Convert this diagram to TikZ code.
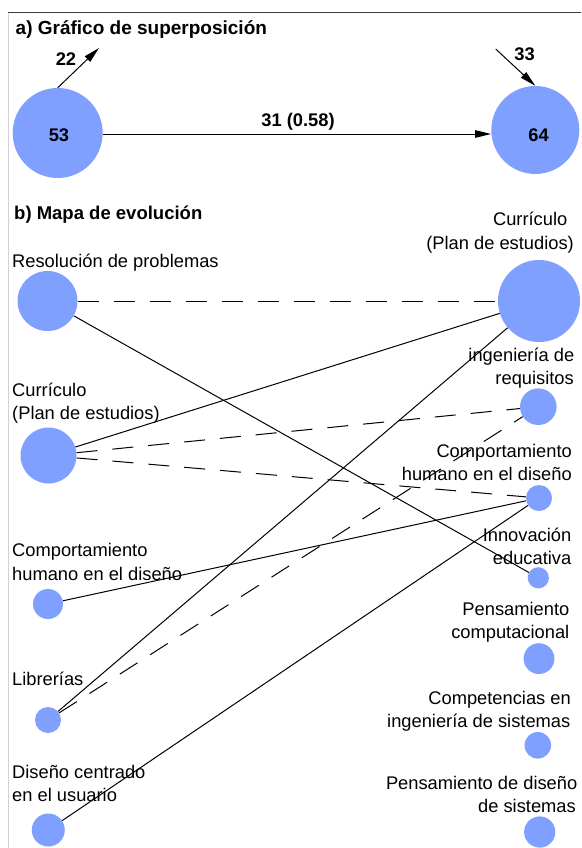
\documentclass[tikz,border=0pt]{standalone}
\usepackage{fontspec}
\setmainfont{Liberation Sans}
\usetikzlibrary{arrows.meta}
\definecolor{nodeblue}{RGB}{128,160,255}
\definecolor{topline}{RGB}{60,60,60}
\definecolor{sideline}{RGB}{210,210,210}
\begin{document}
\begin{tikzpicture}[x=1pt,y=-1pt,
  vtx/.style={circle,fill=nodeblue,draw=none,inner sep=0pt,minimum size=#1},
  lab/.style={inner sep=0pt,font=\fontsize{18.3}{22}\selectfont},
  labl/.style={lab,anchor=base west},
  labr/.style={lab,anchor=base east},
  num/.style={inner sep=0pt,anchor=base,font=\fontsize{18.3}{22}\selectfont\bfseries},
  ttl/.style={inner sep=0pt,anchor=base west,font=\fontsize{#1}{22}\selectfont\bfseries},
  edge/.style={line width=1pt,black},
  dashedge/.style={edge,dash pattern=on 21pt off 15pt},
  arr/.style={line width=1pt,black,-{Triangle[length=16pt,width=7.5pt]}}
]
\useasboundingbox[fill=white] (0,0) rectangle (581,848);
% frame
\draw[topline,line width=1pt] (8,13) -- (581,13);
\draw[sideline,line width=1pt] (8,13) -- (8,848);

% ---------- a) overlap graph
\node[ttl=19] (ta) at (15.5,35) {a) Gráfico de superposición};
\node[vtx=90] (n53) at (57.7,133) {};
\node[vtx=88] (n64) at (535.3,130) {};
\node[num] (l53) at (59,141) {53};
\node[num] (l64) at (538.5,141) {64};
\coordinate (s31) at ([yshift=-1pt]n53.east);
\coordinate (e31) at (s31 -| n64.west);
\draw[arr] (s31) -- (e31);
\node[num] (l31) at (298,127) {31 (0.58)};
\coordinate (t22) at (99,48);
\draw[arr] (n53.north) -- (t22);
\node[num] (l22) at (66,66) {22};
\coordinate (s33) at (495.7,49);
\draw[arr] (s33) -- (n64.north);
\node[num] (l33) at (524.5,61) {33};

% ---------- b) evolution map
\node[ttl=18.5] (tb) at (14,219.5) {b) Mapa de evolución};

\node[vtx=60] (L1) at (47.5,301) {};
\node[vtx=56] (L2) at (48.5,455.5) {};
\node[vtx=30] (L3) at (48,604) {};
\node[vtx=26] (L4) at (48,720) {};
\node[vtx=33] (L5) at (48.3,830) {};

\node[vtx=82] (R1) at (539,301) {};
\node[vtx=36.6] (R2) at (538.3,406.7) {};
\node[vtx=26] (R3) at (539,498) {};
\node[vtx=21.2] (R4) at (538.3,577.8) {};
\node[vtx=30.8] (R5) at (539,658.6) {};
\node[vtx=26.6] (R6) at (537.8,745.3) {};
\node[vtx=31.2] (R7) at (539.7,832) {};

\node[labl] (l1a) at (12,267) {Resolución de problemas};
\node[labl] (l2a) at (12,396) {Currículo};
\node[labl] (l2b) at (12,419.5) {(Plan de estudios)};
\node[labl] (l3a) at (12,556.7) {Comportamiento};
\node[labl] (l3b) at (12,580) {humano en el diseño};
\node[labl] (l4a) at (12,685.7) {Librerías};
\node[labl] (l5a) at (12,778) {Diseño centrado};
\node[labl] (l5b) at (12,801.7) {en el usuario};

\node[labr] (r1a) at (567.5,225) {Currículo};
\node[labr] (r1b) at (574,249) {(Plan de estudios)};
\node[labr] (r2a) at (574.5,361.5) {ingeniería de};
\node[labr] (r2b) at (574,384.5) {requisitos};
\node[labr] (r3a) at (572,457) {Comportamiento};
\node[labr] (r3b) at (572,480) {humano en el diseño};
\node[labr] (r4a) at (571.5,541.7) {Innovación};
\node[labr] (r4b) at (571.5,564.5) {educativa};
\node[labr] (r5a) at (569.5,615) {Pensamiento};
\node[labr] (r5b) at (569.5,638.3) {computacional};
\node[labr] (r6a) at (571,704) {Competencias en};
\node[labr] (r6b) at (570.5,727.7) {ingeniería de sistemas};
\node[labr] (r7a) at (577.5,789.3) {Pensamiento de diseño};
\node[labr] (r7b) at (576,812.3) {de sistemas};

\draw[dashedge] (L1) -- (R1);
\draw[edge] (L1) -- (R4);
\draw[edge] (L2) -- (R1);
\draw[dashedge] (L2) -- (R2);
\draw[dashedge] (L2) -- (R3);
\draw[edge] (L3) -- (R3);
\draw[edge] (L4) -- (R1);
\draw[dashedge] (L4) -- (R2);
\draw[edge] (L5) -- (R3);
\end{tikzpicture}
\end{document}
